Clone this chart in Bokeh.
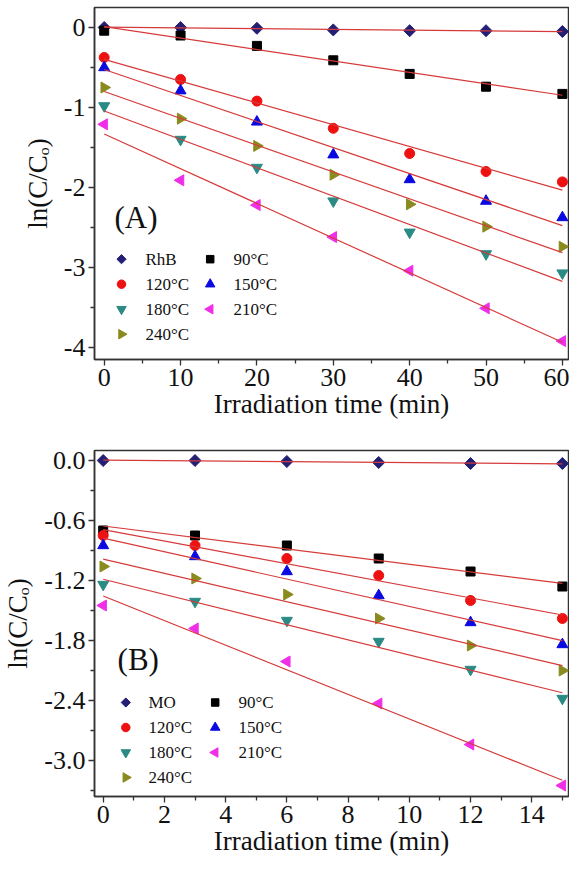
import numpy as np
from bokeh.plotting import figure
from bokeh.layouts import column
from bokeh.models import Range1d, FixedTicker, Label, PrintfTickFormatter
from bokeh.embed import file_html
from bokeh.resources import INLINE

# ---------------- data ----------------
time_a = [0, 10, 20, 30, 40, 50, 60]
rhb   = [0.0, 0.0, -0.01, -0.03, -0.04, -0.04, -0.05]
a_90  = [-0.04, -0.10, -0.23, -0.41, -0.58, -0.74, -0.83]
a_120 = [-0.375, -0.65, -0.92, -1.26, -1.575, -1.80, -1.93]
a_150 = [-0.50, -0.79, -1.18, -1.59, -1.90, -2.17, -2.375]
a_180 = [-0.98, -1.40, -1.75, -2.17, -2.56, -2.83, -3.07]
a_210 = [-1.21, -1.91, -2.22, -2.62, -3.04, -3.51, -3.92]
a_240 = [-0.75, -1.14, -1.48, -1.84, -2.21, -2.49, -2.74]

time_b = [0, 3, 6, 9, 12, 15]
mo    = [0.0, 0.0, -0.01, -0.02, -0.03, -0.03]
b_90  = [-0.70, -0.75, -0.85, -0.98, -1.11, -1.26]
b_120 = [-0.75, -0.85, -0.98, -1.15, -1.40, -1.58]
b_150 = [-0.85, -0.96, -1.11, -1.35, -1.62, -1.84]
b_180 = [-1.24, -1.41, -1.60, -1.81, -2.09, -2.38]
b_210 = [-1.45, -1.68, -2.01, -2.43, -2.84, -3.25]
b_240 = [-1.06, -1.18, -1.34, -1.58, -1.85, -2.10]

series_names_a = ["RhB", "90°C", "120°C", "150°C", "180°C", "210°C", "240°C"]
series_names_b = ["MO", "90°C", "120°C", "150°C", "180°C", "210°C", "240°C"]

x_ticks_a = [0, 10, 20, 30, 40, 50, 60]
x_minor_a = [5, 15, 25, 35, 45, 55]
y_ticks_a = [0, -1, -2, -3, -4]
y_minor_a = [-0.5, -1.5, -2.5, -3.5]

x_ticks_b = [0, 2, 4, 6, 8, 10, 12, 14]
x_minor_b = [1, 3, 5, 7, 9, 11, 13, 15]
y_ticks_b = [0.0, -0.6, -1.2, -1.8, -2.4, -3.0]
y_minor_b = [-0.3, -0.9, -1.5, -2.1, -2.7, -3.3]

# ---------------- styles ----------------
FONT = "Liberation Serif"
styles = [
    dict(marker="square", size=8.5, lsize=6.5, color="#221f74", angle=np.pi / 4),   # dye
    dict(marker="square", size=9, lsize=7.5, color="#000000", angle=0.0),            # 90
    dict(marker="circle", size=10, lsize=8.5, color="#ee1111", angle=0.0),           # 120
    dict(marker="triangle", size=11, lsize=9.5, color="#0a0ae0", angle=0.0),         # 150
    dict(marker="inverted_triangle", size=11, lsize=9.5, color="#2a8a84", angle=0.0),  # 180
    dict(marker="triangle", size=11, lsize=9.5, color="#f02ee8", angle=np.pi / 2),   # 210
    dict(marker="triangle", size=11, lsize=9.5, color="#8a8a1e", angle=-np.pi / 2),  # 240
]
LINE_COLOR = "#d63a3a"
FRAME_W = 474


def make_panel(t, ys, names, xr, yr, xt, xm, yt, ym, yfmt, frame_h, top, bottom,
               tag, tag_pos, leg):
    p = figure(frame_width=FRAME_W, frame_height=frame_h, output_backend="svg",
               toolbar_location=None, x_range=Range1d(*xr), y_range=Range1d(*yr),
               min_border_left=94, min_border_right=1,
               min_border_top=top, min_border_bottom=bottom)
    p.xgrid.visible = False
    p.ygrid.visible = False
    p.outline_line_color = "#333333"
    p.outline_line_width = 1.5

    for ax in (p.xaxis[0], p.yaxis[0]):
        ax.axis_line_color = "#333333"
        ax.axis_line_width = 1.5
        ax.major_tick_line_color = "#333333"
        ax.minor_tick_line_color = "#333333"
        ax.major_tick_line_width = 1.3
        ax.minor_tick_line_width = 1.3
        ax.major_tick_in = 0
        ax.major_tick_out = 6
        ax.minor_tick_in = 0
        ax.minor_tick_out = 4
        ax.major_label_text_font = FONT
        ax.major_label_text_font_size = "26px"
        ax.major_label_text_color = "#111111"
        ax.axis_label_text_font = FONT
        ax.axis_label_text_font_size = "27px"
        ax.axis_label_text_font_style = "normal"
        ax.axis_label_text_color = "#111111"

    p.xaxis[0].ticker = FixedTicker(ticks=xt, minor_ticks=xm)
    p.yaxis[0].ticker = FixedTicker(ticks=yt, minor_ticks=ym)
    p.xaxis[0].formatter = PrintfTickFormatter(format="%d")
    p.yaxis[0].formatter = PrintfTickFormatter(format=yfmt)
    p.xaxis[0].major_label_standoff = 3
    p.yaxis[0].major_label_standoff = 3
    p.xaxis[0].axis_label_standoff = 0
    p.yaxis[0].axis_label_standoff = 8
    p.xaxis[0].axis_label = "Irradiation time (min)"
    p.yaxis[0].axis_label = "ln(C/Cₒ)"

    for y, st in zip(ys, styles):
        p.scatter(t, y, marker=st["marker"], size=st["size"], angle=st["angle"],
                  fill_color=st["color"], line_color=st["color"], line_width=1)

    tx = np.array(t, dtype=float)
    for y in ys:
        k, b = np.polyfit(tx, np.array(y, dtype=float), 1)
        xs = [tx.min(), tx.max()]
        p.line(xs, [b + k * xs[0], b + k * xs[1]], line_color=LINE_COLOR, line_width=1.2)

    # legend drawn by hand so that the rotated markers keep their orientation
    def fx(px):
        return xr[0] + px / FRAME_W * (xr[1] - xr[0])

    def fy(py):
        return yr[1] - py / frame_h * (yr[1] - yr[0])

    (c1_m, c1_t), (c2_m, c2_t), row0, pitch = leg
    for col, (mx, txp, idx) in enumerate([(c1_m, c1_t, [0, 2, 4, 6]), (c2_m, c2_t, [1, 3, 5])]):
        for r, i in enumerate(idx):
            st = styles[i]
            yy = fy(row0 + r * pitch)
            p.scatter([fx(mx)], [yy], marker=st["marker"], size=st["lsize"], angle=st["angle"],
                      fill_color=st["color"], line_color=st["color"], line_width=1)
            p.add_layout(Label(x=fx(txp), y=yy, text=names[i], text_font=FONT,
                               text_font_size="17px", text_baseline="middle",
                               text_align="left", text_color="#111111"))

    p.add_layout(Label(x=tag_pos[0], y=tag_pos[1], text=tag, text_font=FONT,
                       text_font_size="31px", text_baseline="middle", text_align="left",
                       text_color="#111111"))
    return p


pA = make_panel(time_a, [rhb, a_90, a_120, a_150, a_180, a_210, a_240], series_names_a,
                (-1.27, 60.8), (-4.15, 0.25), x_ticks_a, x_minor_a, y_ticks_a, y_minor_a,
                "%d", 352, 7, 69, "(A)", (1.35, -2.375),
                ((27, 51), (115.7, 139), 251.7, 25))
pB = make_panel(time_b, [mo, b_90, b_120, b_150, b_180, b_210, b_240], series_names_b,
                (-0.284, 15.2), (-3.36, 0.1), x_ticks_b, x_minor_b, y_ticks_b, y_minor_b,
                "%.1f", 346, 22, 68, "(B)", (0.47, -1.99),
                ((31.3, 54), (120.7, 144), 252, 25))

layout = column(pA, pB)
open("out.html", "w").write(file_html(layout, INLINE))
